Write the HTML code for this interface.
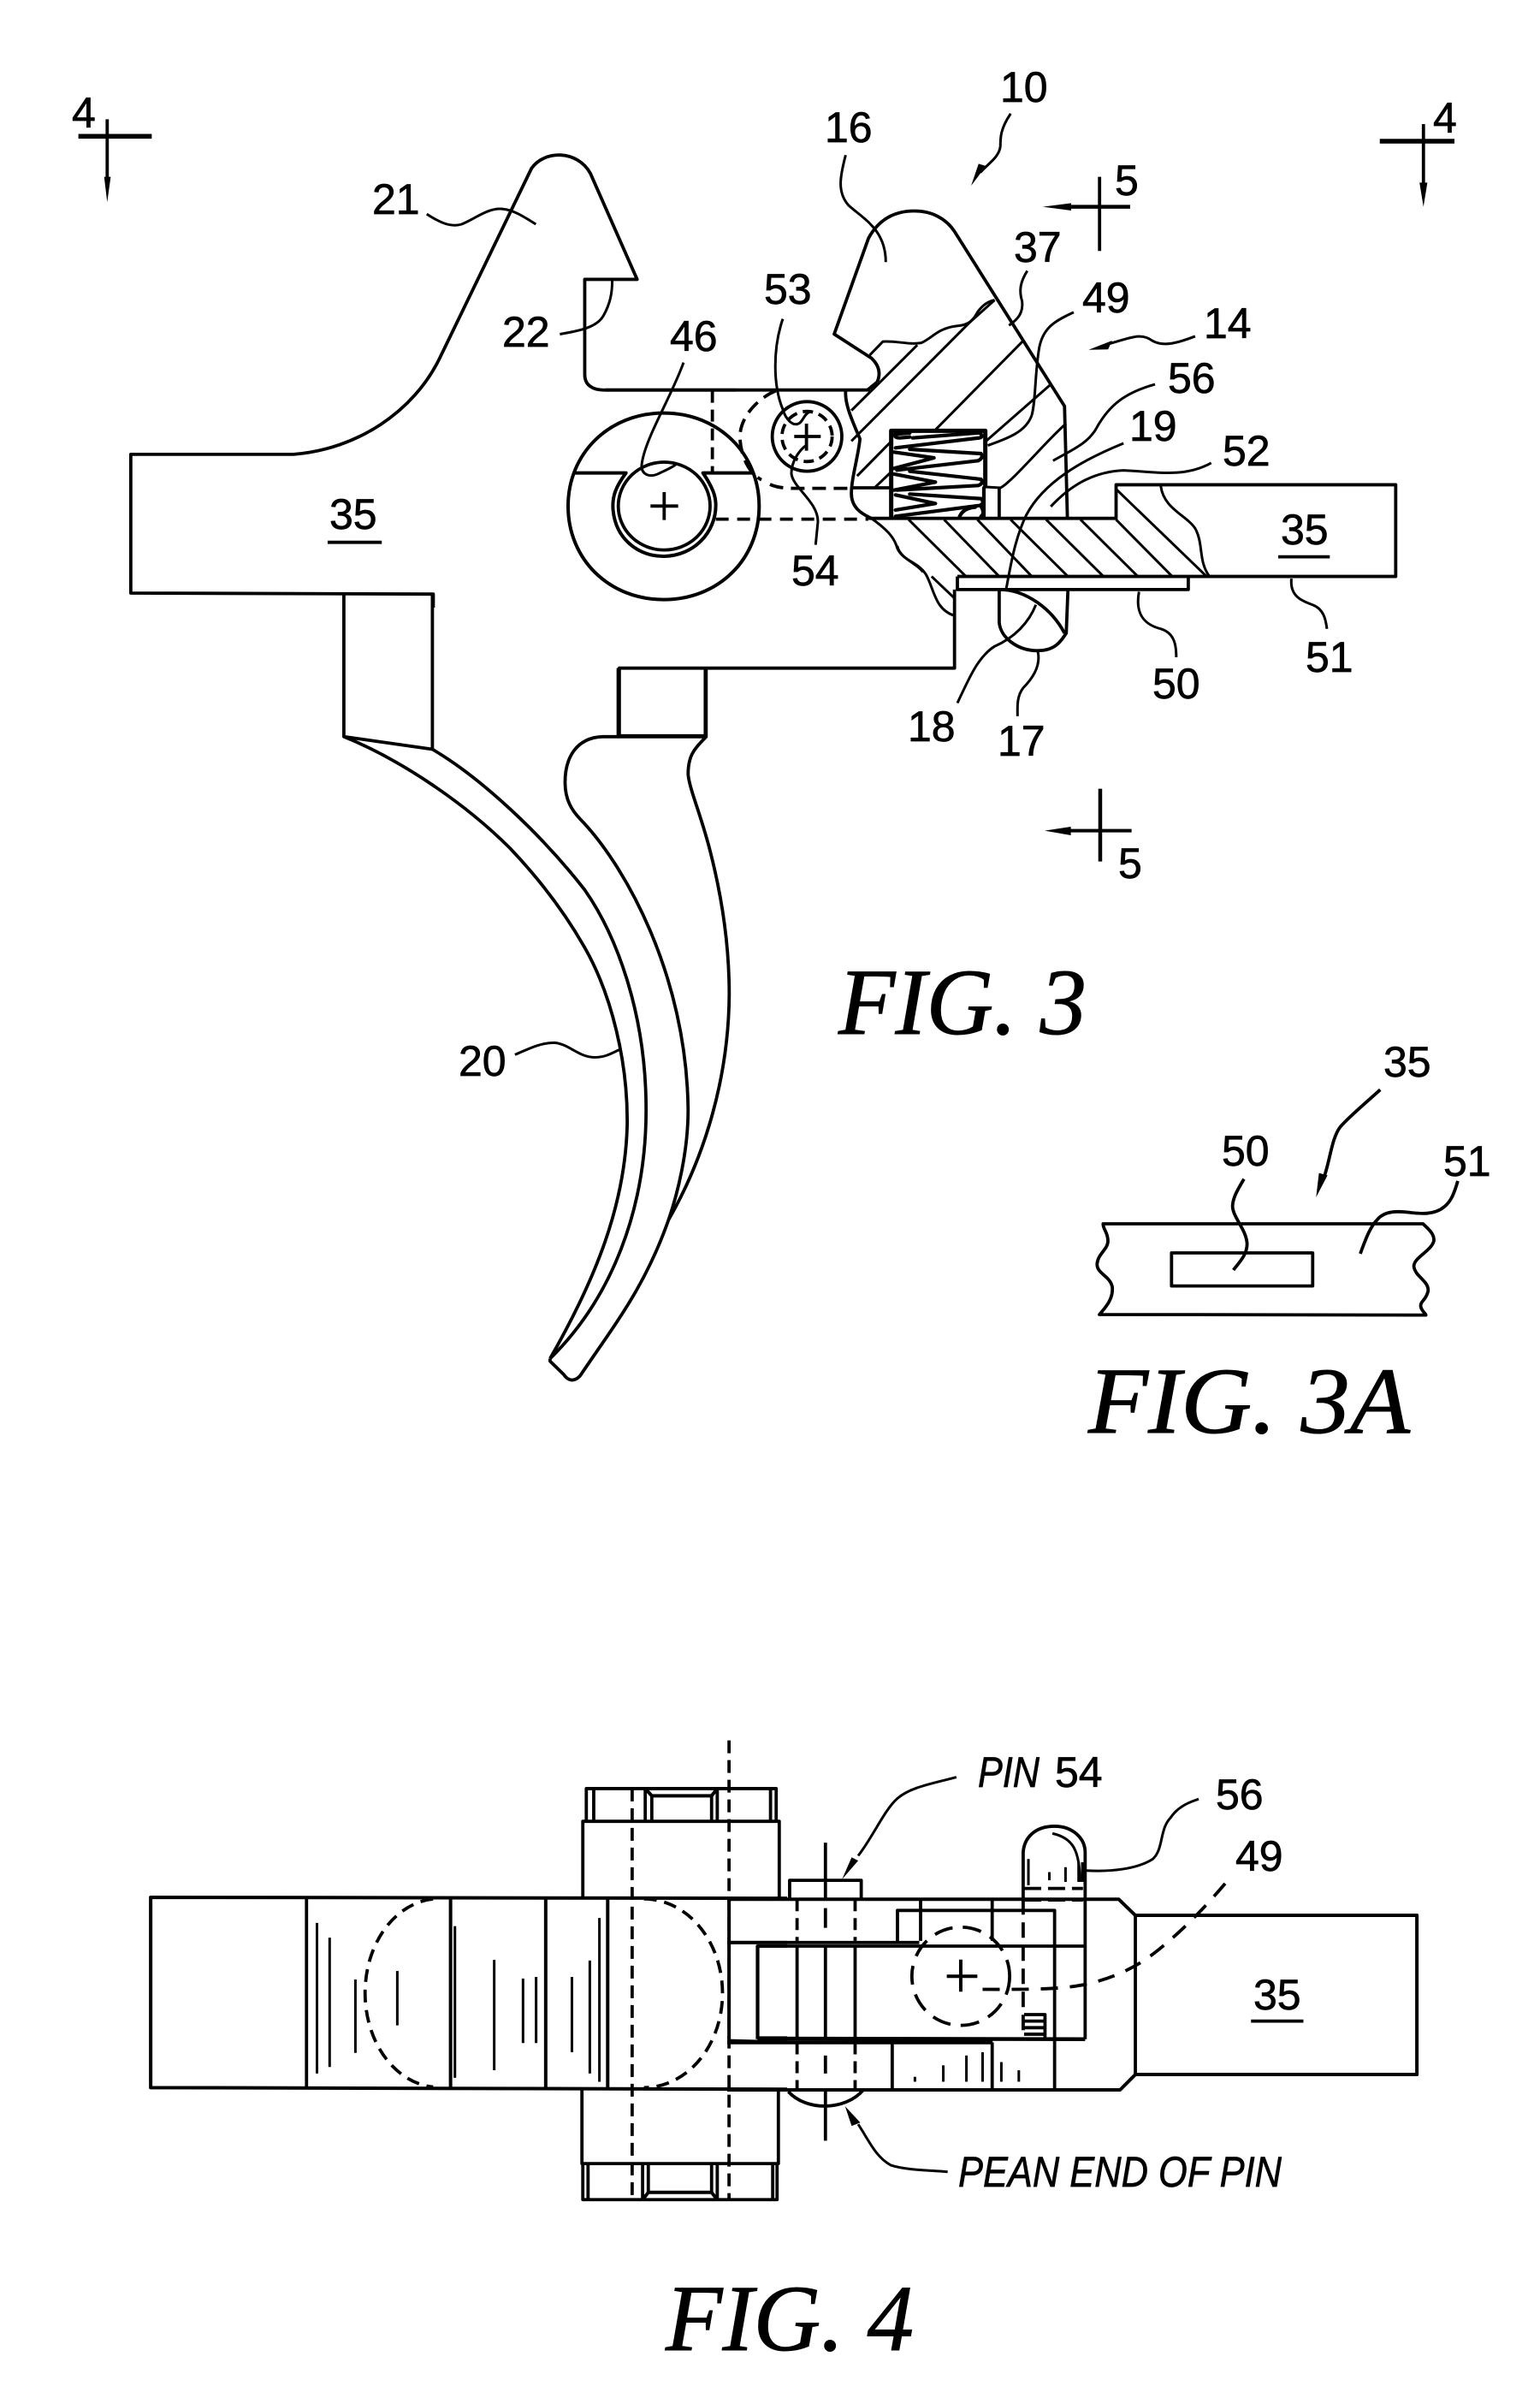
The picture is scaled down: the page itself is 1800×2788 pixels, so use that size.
<!DOCTYPE html>
<html><head><meta charset="utf-8"><title>Trigger assembly figures</title>
<style>
html,body{margin:0;padding:0;background:#fff}
svg{display:block}
g.s *{vector-effect:non-scaling-stroke}
.d{stroke-dasharray:16 9}
.b{stroke-width:3}
.h{stroke-width:3}
text{font-family:"Liberation Sans",sans-serif;font-size:50px;fill:#000;stroke:#000;stroke-width:.7px}
.f{font-family:"Liberation Serif",serif;font-style:italic;font-size:110px;stroke-width:1px}
.i{font-style:italic}
</style></head><body>
<svg xmlns="http://www.w3.org/2000/svg" width="1800" height="2788" viewBox="0 0 1800 2788">
<rect width="1800" height="2788" fill="#fff"/>

<!-- FIG 3 left part -->
<g class="s" transform="translate(60,90) scale(.5102,.3954)" fill="none" stroke="#000" stroke-width="3.8" stroke-linejoin="round">
<path d="M875,1568 L875,1528 L182,1525 L182,1115 L555,1115 C700,1100 830,990 890,830 L1100,270 C1130,215 1205,215 1235,285 L1342,598 L1222,598 L1222,880 C1222,910 1240,925 1265,925 L1568,925"/>
<path class="b" d="M860,405 C890,430 915,445 940,435 C970,420 1000,385 1035,390 C1060,393 1085,415 1110,435"/>
<path class="b" d="M1165,760 C1210,750 1250,740 1265,705 C1280,670 1285,640 1285,600"/>
<path d="M62,175 L230,175" stroke-width="5.5"/>
<path d="M128,125 L128,310"/>
<path d="M121,295 L136,295 L128,370 Z" fill="#000" stroke="none"/>
<path d="M633,1375 L757,1375"/>
</g>

<!-- FIG 3 central part -->
<g class="s" transform="translate(600,120) scale(.6697,.5102)" fill="none" stroke="#000" stroke-width="3.8" stroke-linejoin="round">
<path d="M160,658 L622,658"/>
<!-- sear -->
<path d="M635,640 Q645,610 625,585 L560,530 L620,310 C640,262 670,248 700,248 C730,248 755,265 770,295 L962,695 L967,950"/>
<path d="M635,640 L618,658"/>
<path class="b" d="M622,578 L645,547 C670,545 690,555 712,550 C730,540 740,518 770,512 C790,510 800,505 810,480 C818,465 828,455 840,452"/>
<!-- hatch upper -->
<g class="h">
<path d="M640,640 L705,555"/><path d="M590,775 L795,505"/><path d="M795,505 L840,452"/>
<path d="M736,750 L890,545"/><path d="M825,775 L938,645"/>
<path d="M600,855 L660,775"/><path d="M632,880 L660,845"/>
<path d="M590,705 L640,640"/>
<path d="M825,880 L850,882 C870,870 940,760 965,735"/>
</g>
<path d="M580,660 C578,690 592,730 605,770 C602,810 590,860 590,895 C590,925 605,940 625,952"/>
<path d="M590,882 L660,882"/>
<path d="M848,882 L848,950"/>
<!-- lower hatched block -->
<path d="M620,952 L1052,952 L1052,875 L1540,875 L1540,1085 L775,1085"/>
<path d="M775,1085 L775,1115 L1178,1115 L1178,1085"/>
<path d="M770,1115 L770,1295 L185,1295 L185,1450 L335,1450 L335,1295"/>
<g class="h">
<path d="M690,955 L790,1085"/><path d="M752,955 L848,1085"/><path d="M810,955 L905,1085"/><path d="M868,955 L968,1085"/><path d="M930,955 L1030,1085"/><path d="M990,955 L1090,1085"/><path d="M1052,885 L1210,1085"/><path d="M1052,955 L1150,1085"/>
<path d="M730,1085 L770,1135"/>
</g>
<path class="b" d="M625,952 C650,975 665,995 670,1020 C680,1050 705,1050 720,1080 C735,1115 735,1160 770,1175"/>
<path class="b" d="M670,1015 C675,1045 705,1055 715,1075"/>
<path class="b" d="M1130,878 C1135,930 1175,945 1190,975 C1205,1010 1195,1050 1215,1085"/>
<!-- disconnector -->
<path d="M848,1115 L848,1190 C850,1225 880,1255 915,1255 C945,1255 955,1235 965,1215 L968,1115"/>
<path d="M848,1115 C895,1115 940,1160 962,1215"/>
<!-- leaders -->
<g class="b">
<path d="M868,25 C850,60 850,80 850,100 C848,125 828,140 815,160"/>
<path d="M825,145 L812,140 L799,190 Z" fill="#000" stroke="none"/>
<path d="M897,385 C885,410 882,430 888,455 C890,480 882,495 865,510"/>
<path d="M978,480 C945,500 925,515 918,560 C910,620 912,680 905,715 C895,755 860,770 828,785"/>
<path d="M1190,535 C1160,550 1135,560 1115,545 C1095,525 1075,540 1040,552"/>
<path d="M1045,545 L1038,565 L1004,566 Z" fill="#000" stroke="none"/>
<path d="M1120,645 C1065,665 1040,695 1020,740 C1005,780 975,795 942,820"/>
<path d="M1065,780 C990,820 925,870 895,945 C875,1000 868,1060 860,1115"/>
<path d="M1218,825 C1170,860 1120,845 1065,842 C1010,845 970,880 938,925"/>
<path d="M1358,1090 C1355,1130 1375,1140 1395,1150 C1415,1160 1418,1185 1420,1205"/>
<path d="M1092,1120 C1085,1170 1100,1195 1130,1205 C1155,1215 1157,1245 1157,1270"/>
<path d="M915,1255 C922,1290 905,1320 890,1340 C878,1360 880,1385 880,1405"/>
<path d="M912,1150 C900,1190 875,1225 840,1245 C810,1270 795,1320 775,1375"/>
<path d="M580,120 C570,170 565,205 585,235 C610,265 650,290 650,365"/>
</g>
<path d="M1335,1040 L1425,1040"/>
</g>

<!-- spring -->
<g class="s" transform="translate(970,460) scale(.3333)" fill="none" stroke="#000" stroke-width="4.2" stroke-linejoin="round" stroke-linecap="round">
<path d="M215,432 L215,130 L545,130 L545,325" stroke-width="5"/>
<path d="M540,330 L540,432"/>
<path d="M228,142 Q225,155 245,155 L280,152 M228,142 L280,138 M290,155 L525,137 Q540,150 525,155 L230,190 M225,205 L365,225 L225,262 M280,195 L530,210 Q540,225 520,235 L235,268 M225,282 L370,310 L225,338 M280,272 L530,300 Q540,315 520,322 L235,338 M230,355 L370,385 L230,408 M280,352 L530,368 Q545,385 525,392 L230,430 M530,395 Q545,420 530,430 M455,430 Q470,400 510,398"/>
</g>

<!-- pivot and pin -->
<g class="s" transform="translate(640,440) scale(.3333)" fill="none" stroke="#000" stroke-width="3.8" stroke-linejoin="round">
<path d="M407,128 C600,128 742,270 742,454 C742,640 600,782 407,782 C215,782 72,640 72,454 C72,270 215,128 407,128 Z" stroke-width="4"/>
<ellipse cx="409" cy="454" rx="161" ry="154" fill="#fff"/>
<path d="M95,338 L275,338 C240,385 225,420 230,470 C240,570 320,632 410,630 C510,628 590,550 590,450 C590,420 580,390 545,338 L720,338" stroke-width="4"/>
<path d="M361,454 L458,454 M409,405 L409,503"/>
<path d="M578,50 L578,335" class="d" style="stroke-dasharray:14 8"/>
<path d="M590,500 L1125,500" class="d" style="stroke-dasharray:15 10"/>
<path d="M800,50 C730,80 670,150 675,220 C680,290 710,340 750,362 M780,378 C810,392 850,392 880,392 L1065,392" class="d" style="stroke-dasharray:16 9"/>
<circle cx="910" cy="210" r="122"/>
<circle cx="910" cy="210" r="88" class="d" style="stroke-dasharray:12 7"/>
<path d="M865,210 L958,210 M908,165 L908,260"/>
<g class="b">
<path d="M477,-49 C430,80 340,220 330,310 C328,345 360,355 390,340 C410,330 435,320 450,308"/>
<path d="M825,-202 C790,-100 790,30 825,115 C835,150 860,175 880,165 C895,160 900,130 918,125"/>
<path d="M908,240 C880,260 855,300 855,340 C860,390 950,440 948,510 L940,590"/>
</g>
</g>

<!-- section 5 top -->
<g class="s" transform="translate(900,60) scale(.5102,.3333)" fill="none" stroke="#000" stroke-width="3.8">
<path d="M690,545 L825,545" stroke-width="4.5"/>
<path d="M755,440 L755,700"/>
<path d="M690,532 L690,558 L625,545 Z" fill="#000" stroke="none"/>
<path d="M1397,315 L1568,315" stroke-width="5.5"/>
<path d="M1497,255 L1497,470"/>
<path d="M1488,460 L1506,460 L1497,545 Z" fill="#000" stroke="none"/>
</g>

<!-- section 5 bottom -->
<g class="s" transform="translate(940,880) scale(.3333)" fill="none" stroke="#000" stroke-width="3.8">
<path d="M930,272 L1148,272" stroke-width="4"/>
<path d="M1038,125 L1038,380" stroke-width="4.5"/>
<path d="M935,258 L935,288 L843,272 Z" fill="#000" stroke="none"/>
</g>

<!-- triggers -->
<g class="s" transform="translate(350,660) scale(.3508,.6122)" fill="none" stroke="#000" stroke-width="3.8" stroke-linejoin="round">
<path d="M148,57 L148,328 L443,352 L443,57"/>
<path d="M148,328 C350,375 560,460 700,540 C800,600 880,660 950,730 C1040,820 1095,950 1092,1070 C1085,1220 990,1360 835,1515"/>
<path d="M443,352 C600,405 800,510 950,620 C1060,710 1155,860 1155,1040 C1155,1230 1040,1400 835,1515"/>
<path d="M1062,197 L1062,328 L1355,328 L1355,197"/>
<path d="M1062,328 L1010,328 C920,330 885,370 885,415 C885,450 910,470 935,485 C1080,570 1290,780 1295,1040 C1295,1120 1260,1200 1230,1250"/>
<path d="M1355,328 C1320,350 1295,360 1295,400 C1300,430 1340,480 1370,550 C1410,640 1432,730 1432,820 C1430,980 1350,1130 1230,1250 C1150,1380 1050,1450 935,1548 C915,1560 895,1558 880,1545 L835,1520 L835,1515"/>
<path class="b" d="M718,935 C760,925 800,912 850,912 C900,915 930,940 985,940 C1020,940 1040,932 1068,925"/>
</g>

<!-- FIG 3A -->
<g class="s" transform="translate(1200,1180) scale(.3333)" fill="none" stroke="#000" stroke-width="3.8" stroke-linejoin="round">
<path d="M268,750 L1390,750 C1410,770 1430,785 1428,810 C1420,845 1355,870 1358,900 C1362,935 1410,950 1408,985 C1400,1020 1380,1020 1382,1040 C1384,1055 1400,1065 1400,1070 L255,1068 C280,1040 305,1010 300,970 C290,930 245,925 247,890 C250,855 285,840 285,810 C285,780 268,770 268,750 Z"/>
<rect x="508" y="852" width="495" height="116"/>
<path d="M762,593 C740,630 722,660 722,690 C725,730 770,770 773,820 C773,860 745,885 725,912"/>
<path d="M1170,855 C1190,800 1205,760 1230,735 C1255,705 1300,705 1340,710 C1380,715 1430,720 1465,690 C1490,670 1500,640 1512,600"/>
<path d="M1240,280 C1190,325 1130,375 1100,410 C1070,450 1065,520 1045,580"/>
<path d="M1025,572 L1055,580 L1015,657 Z" fill="#000" stroke="none"/>
</g>

<!-- FIG 4 left -->
<g class="s" transform="translate(120,2000) scale(.5102,.3827)" fill="none" stroke="#000" stroke-width="3.8" stroke-linejoin="round">
<path d="M1568,570 L110,567 L110,1148 L1568,1153" stroke-width="4"/>
<path d="M467,567 L467,1148"/><path d="M797,568 L797,1150" stroke-width="4"/><path d="M1015,570 L1015,1150" stroke-width="4"/><path d="M1157,570 L1157,1150" stroke-width="4"/>
<g class="b">
<path d="M491,645 L491,1105"/><path d="M520,690 L520,1085"/><path d="M579,818 L579,1042"/><path d="M675,792 L675,958"/><path d="M807,655 L807,1118"/><path d="M897,758 L897,1095"/><path d="M963,815 L963,1012"/><path d="M993,810 L993,1012"/><path d="M1075,810 L1075,1040"/><path d="M1116,760 L1116,1105"/><path d="M1138,630 L1138,1130"/>
</g>
<path d="M757,572 A170,288 0 0 0 757,1146" style="stroke-dasharray:15 9"/>
<path d="M1240,572 A180,288 0 0 1 1240,1148" style="stroke-dasharray:15 9"/>
<!-- top cap -->
<path d="M1100,567 L1100,335 L1550,335 L1550,567"/>
<path d="M1108,335 L1108,235 L1543,235 L1543,335"/>
<path d="M1125,235 L1125,335 M1243,235 L1243,335 M1258,257 L1258,335 M1395,257 L1395,335 M1408,235 L1408,335 M1530,235 L1530,335"/>
<path d="M1243,235 L1258,257 L1395,257 L1408,235" stroke-width="4"/>
<!-- bottom cap -->
<path d="M1098,1153 L1098,1380 L1548,1380 L1548,1153"/>
<path d="M1100,1380 L1100,1490 L1545,1490 L1545,1380"/>
<path d="M1112,1380 L1112,1490 M1237,1380 L1237,1490 M1250,1380 L1250,1468 M1395,1380 L1395,1468 M1408,1380 L1408,1490 M1535,1380 L1535,1490"/>
<path d="M1237,1490 L1250,1468 L1395,1468 L1408,1490" stroke-width="4"/>
<path d="M1213,235 L1213,1490" style="stroke-dasharray:15 8"/>
<path d="M1435,88 L1435,1490" style="stroke-dasharray:15 8"/>
<path d="M1435,570 L1435,1005 L1568,1010" stroke-width="4"/>
<path d="M1435,705 L1568,705"/>
<path d="M1500,1000 L1500,716 L1568,716"/>
<path d="M1500,998 L1568,998" stroke-width="5"/>
</g>

<!-- FIG 4 right -->
<g class="s" transform="translate(850,2000) scale(.5102,.3827)" fill="none" stroke="#000" stroke-width="3.8" stroke-linejoin="round">
<path d="M0,573 L897,573 L935,622 L1580,622 L1580,1108 L935,1108 L900,1155 L0,1155" stroke-width="4"/>
<path d="M935,622 L935,1108"/>
<path d="M0,705 L440,705 M70,716 L820,716 M70,716 L70,998"/>
<path d="M70,998 L820,1000" stroke-width="4.5"/>
<path d="M0,1010 L608,1010" stroke-width="4.5"/>
<path d="M390,705 L390,607 L750,607 L750,1155"/>
<path d="M443,573 L443,700 M607,573 L607,700 M607,1010 L607,1155 M378,1010 L378,1155"/>
<path d="M678,573 L678,430 C680,385 705,350 750,350 C790,350 820,385 820,430 L820,1000"/>
<path d="M678,573 L678,990" style="stroke-dasharray:18 9"/>
<!-- pin -->
<path d="M143,573 L143,515 L307,515 L307,573"/>
<path d="M160,716 L160,1000 M293,716 L293,1000 M225,716 L225,1000"/>
<path d="M160,573 L160,700" style="stroke-dasharray:14 8"/><path d="M293,573 L293,700" style="stroke-dasharray:14 8"/>
<path d="M160,1010 L160,1155" style="stroke-dasharray:14 8"/><path d="M293,1010 L293,1155" style="stroke-dasharray:14 8"/>
<path d="M225,400 L225,570 M225,600 L225,660 M225,1050 L225,1105 M225,1155 L225,1310"/>
<path d="M140,1160 C180,1220 270,1220 312,1155"/>
<!-- dashed circle -->
<ellipse cx="535" cy="808" rx="112" ry="150" style="stroke-dasharray:22 12"/>
<path d="M503,808 L573,808 M535,757 L535,855" stroke-width="4"/>
<!-- 49 -->
<path d="M585,848 C680,848 770,850 830,830 C890,810 940,780 990,725 C1050,660 1100,590 1150,510" style="stroke-dasharray:20 14"/>
<path d="M680,925 L728,925 L728,1000 M680,945 L725,945 M680,965 L728,965 M680,985 L728,985"/>
<!-- button -->
<g class="b">
<path d="M745,372 C790,385 808,420 808,520"/>
<path d="M690,450 L690,530"/><path d="M738,490 L738,515"/><path d="M775,475 L775,520"/><path d="M805,460 L805,520"/>
</g>
<path d="M815,460 L815,520" stroke-width="4.5"/>
<path d="M680,540 L815,540" style="stroke-dasharray:20 8"/><path d="M680,575 L815,575" style="stroke-dasharray:20 8"/>
<!-- ticks -->
<g class="b"><path d="M430,1115 L430,1130"/><path d="M495,1080 L495,1130"/><path d="M548,1050 L548,1130"/><path d="M585,1040 L585,1130"/><path d="M628,1070 L628,1130"/><path d="M668,1095 L668,1130"/></g>
<!-- leaders -->
<g class="b">
<path d="M820,485 C880,490 940,480 975,450 C1000,420 990,360 1015,325 C1030,295 1050,280 1080,267"/>
<path d="M525,200 C470,220 420,230 390,265 C360,300 335,380 300,440"/>
<path d="M285,445 L300,455 L263,512 Z" fill="#000" stroke="none"/>
<path d="M300,1260 C325,1310 340,1360 375,1385 C410,1400 460,1400 505,1405"/>
<path d="M285,1265 L305,1255 L270,1205 Z" fill="#000" stroke="none"/>
</g>
<path d="M1200,945 L1320,945"/>
</g>

<!-- labels -->
<text x="84" y="149">4</text>
<text x="435" y="250">21</text>
<text x="587" y="405">22</text>
<text x="385" y="618">35</text>
<text x="783" y="410">46</text>
<text x="893" y="355">53</text>
<text x="964" y="166">16</text>
<text x="1169" y="119">10</text>
<text x="1303" y="228">5</text>
<text x="1185" y="306">37</text>
<text x="1675" y="155">4</text>
<text x="1265" y="365">49</text>
<text x="1407" y="395">14</text>
<text x="1365" y="459">56</text>
<text x="1320" y="515">19</text>
<text x="1429" y="544">52</text>
<text x="1497" y="636">35</text>
<text x="925" y="684">54</text>
<text x="1526" y="785">51</text>
<text x="1347" y="816">50</text>
<text x="1061" y="866">18</text>
<text x="1166" y="883">17</text>
<text x="536" y="1257">20</text>
<text x="1307" y="1026">5</text>
<text x="1617" y="1258">35</text>
<text x="1428" y="1362">50</text>
<text x="1687" y="1374">51</text>
<text class="f" x="980" y="1208" textLength="290" lengthAdjust="spacingAndGlyphs">FIG. 3</text>
<text class="f" x="1272" y="1674" textLength="376" lengthAdjust="spacingAndGlyphs">FIG. 3A</text>
<text class="f" x="778" y="2746" textLength="290" lengthAdjust="spacingAndGlyphs">FIG. 4</text>
<text class="i" x="1143" y="2088" textLength="72" lengthAdjust="spacingAndGlyphs">PIN</text>
<text x="1233" y="2088">54</text>
<text x="1421" y="2114">56</text>
<text x="1444" y="2186">49</text>
<text x="1465" y="2348">35</text>
<text class="i" x="1120" y="2555" textLength="378" lengthAdjust="spacingAndGlyphs">PEAN END OF PIN</text>
</svg>
</body></html>
